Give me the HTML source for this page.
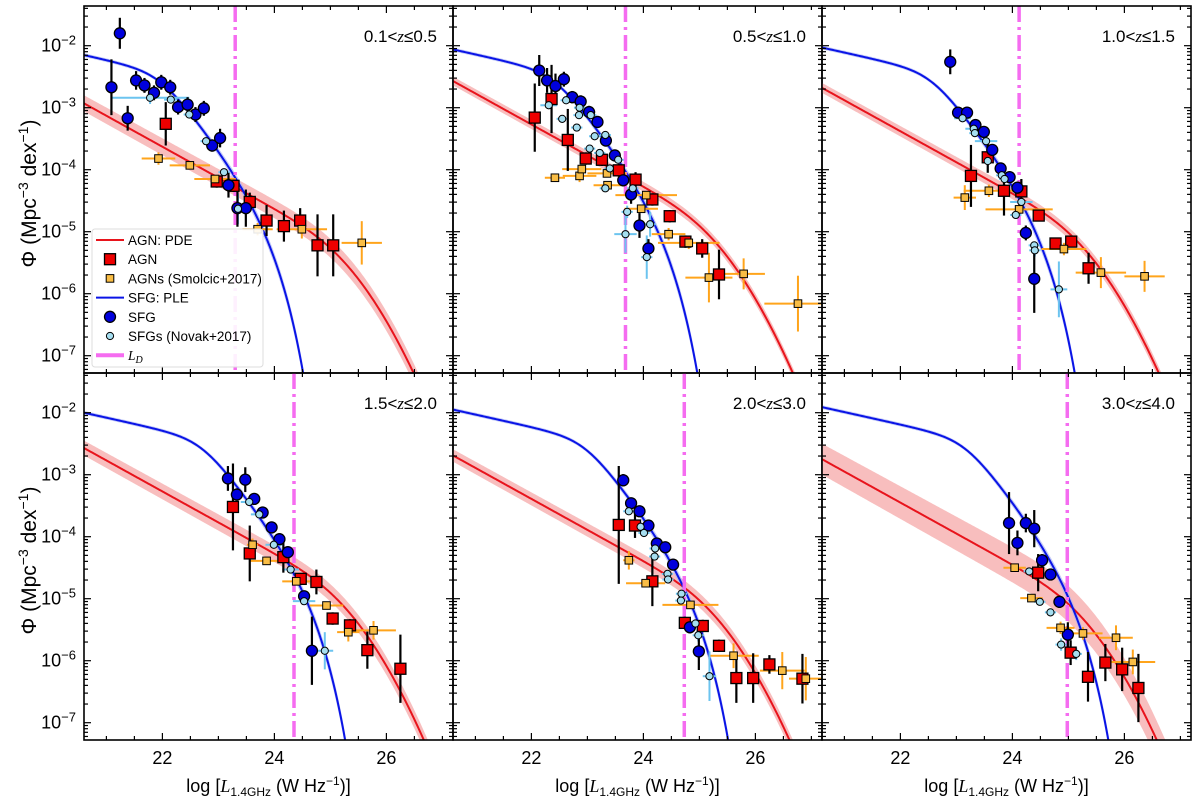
<!DOCTYPE html>
<html><head><meta charset="utf-8"><style>
html,body{margin:0;padding:0;background:#fff;overflow:hidden}
svg{display:block}
svg text{font-family:"Liberation Sans",sans-serif}
</style></head><body>
<svg id="fig" width="1200" height="807" viewBox="0 0 1200 807" xmlns="http://www.w3.org/2000/svg"></svg>
<script>
// ---- data (x = log L, y = log Phi, e = y error dex, xe = x half-width) ----
const zLabels = ["0.1<z≤0.5","0.5<z≤1.0","1.0<z≤1.5","1.5<z≤2.0","2.0<z≤3.0","3.0<z≤4.0"];
const ldValues = [23.30,23.68,24.12,24.35,24.73,24.98];
const agnNorm = [-4.88,-4.52,-4.63,-4.52,-4.64,-4.70];
const agnBand = [0.13,0.07,0.08,0.12,0.10,0.25];
const sfgBreak = [21.95,22.40,22.55,22.70,22.95,23.15];

const sfg1=[[21.24,-1.80,0.25],[21.09,-2.67,0.45],[21.38,-3.17,0.2],[21.53,-2.56,0.15],[21.68,-2.64,0.12],[21.85,-2.76,0.12],[21.98,-2.59,0.12],[22.14,-2.67,0.12],[22.28,-2.99,0.12],[22.45,-2.95,0.12],[22.59,-3.11,0.12],[22.74,-3.01,0.12],[22.89,-3.61,0.1],[23.03,-3.49,0.15],[23.18,-4.25,0.2],[23.34,-4.62,0.3],[23.49,-4.62,0.3]];
const nov1=[[21.78,-2.84,0.1,0.7],[22.15,-2.87,0.06,0.12],[22.48,-3.11,0.06,0.1],[22.78,-3.54,0.06,0.1],[23.10,-4.04,0.06,0.1],[23.35,-4.63,0.25,0.1]];
const agn1=[[22.06,-3.26,0.35],[22.97,-4.19,0.1],[23.27,-4.26,0.1],[23.56,-4.52,0.15],[23.86,-4.82,0.25],[24.17,-4.91,0.25],[24.46,-4.82,0.2],[24.77,-5.22,0.5],[25.05,-5.22,0.5]];
const smo1=[[21.93,-3.82,0.1,0.3],[22.49,-3.93,0.05,0.36],[22.94,-4.15,0.05,0.37],[23.70,-4.96,0.1,0.27],[24.49,-4.96,0.15,0.45],[25.56,-5.18,0.35,0.36]];

const sfg2=[[22.14,-2.40,0.25],[22.28,-2.56,0.2],[22.43,-2.65,0.2],[22.58,-2.54,0.12],[22.73,-2.83,0.1],[22.88,-2.90,0.1],[23.03,-3.07,0.1],[23.18,-3.23,0.08],[23.33,-3.53,0.08],[23.49,-3.77,0.08],[23.64,-4.17,0.1],[23.78,-4.40,0.15],[23.93,-4.90,0.2],[24.09,-5.27,0.15]];
const nov2=[[22.31,-2.96,0.05,0.15],[22.55,-3.18,0.05,0.1],[22.62,-2.88,0.05,0.1],[22.86,-3.00,0.05,0.1],[22.85,-3.12,0.05,0.1],[22.81,-3.32,0.05,0.1],[23.06,-3.12,0.05,0.1],[23.13,-3.46,0.05,0.1],[23.04,-3.66,0.05,0.1],[23.32,-3.44,0.05,0.1],[23.22,-3.73,0.05,0.1],[23.55,-3.84,0.05,0.1],[23.40,-3.98,0.05,0.1],[23.32,-4.30,0.05,0.1],[23.81,-4.30,0.05,0.1],[23.71,-4.68,0.1,0.1],[23.68,-5.04,0.3,0.2],[24.12,-4.88,0.2,0.1],[24.06,-5.41,0.35,0.1]];
const agn2=[[22.06,-3.16,0.55],[22.36,-2.86,0.55],[22.65,-3.52,0.5],[22.97,-3.82,0.1],[23.26,-3.84,0.1],[23.56,-4.01,0.1],[23.86,-4.16,0.12],[24.16,-4.48,0.1],[24.47,-4.75,0.1],[24.75,-5.16,0.1],[25.05,-5.27,0.15],[25.35,-5.69,0.4]];
const smo2=[[22.42,-4.13,0.05,0.18],[22.86,-4.10,0.1,0.3],[22.90,-3.99,0.05,0.35],[23.35,-4.06,0.05,0.35],[23.36,-4.25,0.05,0.25],[24.05,-4.41,0.05,0.55],[23.96,-4.63,0.05,0.3],[24.45,-5.04,0.1,0.3],[24.81,-5.18,0.1,0.55],[25.17,-5.74,0.4,0.42],[25.79,-5.68,0.25,0.38],[26.76,-6.16,0.45,0.6]];

const sfg3=[[22.89,-2.26,0.2],[23.03,-3.08,0.05],[23.19,-3.08,0.05],[23.34,-3.28,0.05],[23.49,-3.39,0.05],[23.64,-3.68,0.05],[23.79,-3.98,0.05],[23.95,-4.12,0.05],[24.09,-4.29,0.05],[24.24,-5.02,0.12],[24.39,-5.76,0.55]];
const nov3=[[23.11,-3.17,0.05,0.15],[23.31,-3.34,0.05,0.15],[23.33,-3.41,0.05,0.1],[23.53,-3.54,0.05,0.2],[23.56,-3.86,0.05,0.1],[23.81,-4.09,0.05,0.1],[23.86,-4.15,0.05,0.1],[24.06,-4.73,0.05,0.1],[24.16,-4.52,0.05,0.2],[24.39,-5.22,0.05,0.1],[24.40,-5.30,0.1,0.1],[24.83,-5.93,0.45,0.15]];
const agn3=[[23.26,-4.10,0.5],[23.56,-3.80,0.25],[23.85,-4.34,0.4],[24.16,-4.35,0.2],[24.47,-4.74,0.08],[24.77,-5.19,0.08],[25.05,-5.16,0.08],[25.36,-5.59,0.25]];
const smo3=[[23.15,-4.45,0.2,0.2],[23.58,-4.34,0.1,0.45],[24.12,-4.64,0.1,0.6],[24.92,-5.28,0.1,0.4],[25.58,-5.66,0.25,0.45],[26.36,-5.72,0.25,0.36]];

const sfg4=[[23.17,-3.06,0.2],[23.33,-3.32,0.1],[23.48,-3.08,0.2],[23.64,-3.39,0.08],[23.79,-3.61,0.08],[23.95,-3.85,0.08],[24.09,-4.04,0.08],[24.24,-4.25,0.08],[24.53,-4.96,0.08],[24.67,-5.84,0.55]];
const nov4=[[23.55,-3.44,0.05,0.15],[23.73,-3.64,0.05,0.15],[23.99,-4.13,0.05,0.15],[24.29,-4.53,0.05,0.15],[24.53,-5.04,0.05,0.2],[24.90,-5.84,0.3,0.15]];
const agn4=[[23.26,-3.52,0.7],[23.56,-4.27,0.45],[24.16,-4.33,0.25],[24.47,-4.68,0.08],[24.75,-4.73,0.2],[25.04,-5.32,0.1],[25.35,-5.43,0.1],[25.66,-5.83,0.3],[26.25,-6.13,0.55]];
const smo4=[[23.61,-4.13,0.1,0.1],[23.86,-4.39,0.05,0.3],[24.39,-4.72,0.05,0.25],[24.93,-5.11,0.05,0.3],[25.32,-5.54,0.15,0.2],[25.77,-5.51,0.15,0.4]];

const sfg5=[[23.64,-3.09,0.1],[23.78,-3.46,0.05],[23.93,-3.59,0.05],[24.09,-3.82,0.05],[24.24,-4.11,0.05],[24.39,-4.17,0.05],[24.53,-4.45,0.05],[24.83,-5.46,0.1],[24.99,-5.85,0.3]];
const nov5=[[23.74,-3.59,0.05,0.1],[23.95,-3.84,0.05,0.1],[24.01,-3.94,0.05,0.1],[24.21,-4.19,0.05,0.1],[24.20,-4.32,0.05,0.1],[24.43,-4.60,0.05,0.1],[24.44,-4.69,0.05,0.1],[24.68,-4.92,0.05,0.1],[24.67,-5.03,0.05,0.1],[24.93,-5.40,0.05,0.15],[24.98,-5.59,0.1,0.1],[25.18,-6.25,0.4,0.12]];
const agn5=[[23.56,-3.81,0.95],[23.85,-3.82,0.2],[24.16,-4.72,0.4],[24.74,-5.39,0.1],[25.06,-5.44,0.1],[25.35,-5.76,0.1],[25.66,-6.28,0.4],[25.96,-6.28,0.4],[26.25,-6.06,0.15],[26.84,-6.29,0.4]];
const smo5=[[23.74,-4.38,0.15,0.1],[24.04,-4.75,0.05,0.35],[24.84,-5.10,0.05,0.5],[25.61,-5.92,0.2,0.45],[26.48,-6.16,0.3,0.4],[26.90,-6.29,0.35,0.3]];

const sfg6=[[23.94,-3.78,0.5],[24.09,-4.10,0.2],[24.24,-3.78,0.15],[24.39,-3.87,0.3],[24.53,-4.38,0.1],[24.68,-4.61,0.05],[24.84,-5.05,0.1],[24.99,-5.58,0.2]];
const nov6=[[24.30,-4.56,0.05,0.1],[24.49,-5.05,0.05,0.1],[24.68,-5.22,0.05,0.1],[24.87,-5.74,0.1,0.1],[25.14,-5.89,0.1,0.1]];
const agn6=[[24.46,-4.58,0.3],[25.04,-5.87,0.2],[25.35,-6.26,0.4],[25.66,-6.03,0.3],[25.96,-6.14,0.35],[26.25,-6.44,0.55]];
const smo6=[[24.04,-4.50,0.05,0.2],[24.34,-4.99,0.05,0.2],[24.86,-5.47,0.1,0.25],[25.26,-5.56,0.1,0.35],[25.85,-5.63,0.2,0.3],[26.15,-6.02,0.2,0.4]];

const xTicks=[22,24,26];
const yTicks=[-2,-3,-4,-5,-6,-7];

const SFG=[sfg1,sfg2,sfg3,sfg4,sfg5,sfg6], NOV=[nov1,nov2,nov3,nov4,nov5,nov6], AGN=[agn1,agn2,agn3,agn4,agn5,agn6], SMO=[smo1,smo2,smo3,smo4,smo5,smo6];

// ---- layout ----
const NS="http://www.w3.org/2000/svg";
const svg=document.getElementById('fig');
const PW=369, PH=367, XMIN=20.6, XMAX=20.6+369/56, YMAX=-2+39.7/62, YMIN=YMAX-367/62;
const lefts=[84,453,822], tops=[6,373];
function mk(tag,attrs,parent){const e=document.createElementNS(NS,tag);for(const k in attrs)e.setAttribute(k,attrs[k]);(parent||svg).appendChild(e);return e;}

function agnCurve(p,x){const u=x-24.5;const l=Math.log(1+Math.pow(10,u));return p-0.5*u-l*l/(2*1.8*1.8*Math.LN10);}
function sfgCurve(xs,x){const u=x-xs;const xc=xs+2.25;
  const dpl=0.5*Math.log10(Math.pow(10,0.4*u)+Math.pow(10,2.3*u));
  return -2.42-dpl-Math.pow(10,0.9*(x-xc));}

for(let i=0;i<6;i++){
  const col=i%3,row=Math.floor(i/3);
  const X0=lefts[col],Y0=tops[row];
  const sx=x=>X0+(x-XMIN)/(XMAX-XMIN)*PW;
  const sy=v=>Y0+(YMAX-v)/(YMAX-YMIN)*PH;
  const g=mk('g',{});
  
  
  const cp=mk('clipPath',{id:'c'+i},g);mk('rect',{x:X0,y:Y0,width:PW,height:PH},cp);
  const pg=mk('g',{'clip-path':'url(#c'+i+')'},g);
  const N=300;let up=[],dn=[],mid=[],sm=[],su=[],sd=[];
  for(let k=0;k<=N;k++){const x=XMIN+(XMAX-XMIN)*k/N;const a=agnCurve(agnNorm[i],x);const w=agnBand[i]*(1+0.25*(x-XMIN)/(XMAX-XMIN));
    up.push(sx(x)+','+sy(a+w));dn.unshift(sx(x)+','+sy(a-w));mid.push(sx(x)+','+sy(a));
    const s=Math.max(sfgCurve(sfgBreak[i],x),YMIN-1);const sw=0.03+0.03*Math.max(0,x-sfgBreak[i]);
    sm.push(sx(x)+','+sy(s));su.push(sx(x)+','+sy(s+sw));sd.unshift(sx(x)+','+sy(s-sw));}
  const ab=mk('polygon',{points:up.concat(dn).join(' '),fill:'#f7b3b3',opacity:0.85},pg);
  
  const sb=mk('polygon',{points:su.concat(sd).join(' '),fill:'#aab4f5',opacity:0.7},pg);
  
  const al=mk('polyline',{points:mid.join(' '),fill:'none',stroke:'#e8141c','stroke-width':2},pg);
  
  const sl=mk('polyline',{points:sm.join(' '),fill:'none',stroke:'#0a14e6','stroke-width':2},pg);
  
  const ld=mk('line',{x1:sx(ldValues[i]),x2:sx(ldValues[i]),y1:Y0,y2:Y0+PH,stroke:'#f56cf0','stroke-width':3.5,'stroke-dasharray':'16 5 3 5'},pg);
  
  function eb(d,colr,w){if(d[2])mk('line',{x1:sx(d[0]),x2:sx(d[0]),y1:sy(d[1]+d[2]),y2:sy(d[1]-d[2]),stroke:colr,'stroke-width':w},pg);
    if(d[3])mk('line',{x1:sx(d[0]-d[3]),x2:sx(d[0]+d[3]),y1:sy(d[1]),y2:sy(d[1]),stroke:colr,'stroke-width':w},pg);}
  SMO[i].forEach(d=>eb(d,'#ffa41b',2));
  NOV[i].forEach(d=>eb(d,'#6cc4ef',2));
  AGN[i].forEach(d=>eb(d,'#000',2.2));
  SFG[i].forEach(d=>eb(d,'#000',2.2));
  AGN[i].forEach(d=>{const r=mk('rect',{x:sx(d[0])-5.5,y:sy(d[1])-5.5,width:11,height:11,fill:'#ee0000',stroke:'#000','stroke-width':1.3},pg);
    });
  SFG[i].forEach(d=>{const c=mk('circle',{cx:sx(d[0]),cy:sy(d[1]),r:5.5,fill:'#0000dd',stroke:'#000','stroke-width':1.3},pg);
    });
  SMO[i].forEach(d=>{const r=mk('rect',{x:sx(d[0])-3.8,y:sy(d[1])-3.8,width:7.6,height:7.6,fill:'#f9bd45',stroke:'#000','stroke-width':1},pg);
    });
  NOV[i].forEach(d=>{const c=mk('circle',{cx:sx(d[0]),cy:sy(d[1]),r:3.6,fill:'#a6def0',stroke:'#000','stroke-width':1},pg);
    });
  for(let t=20.5;t<=27.2;t+=0.5){if(t<XMIN)continue;const maj=Math.abs(t/2-Math.round(t/2))<1e-6;const L=maj?7:4;
    mk('line',{x1:sx(t),x2:sx(t),y1:Y0+PH,y2:Y0+PH-L,stroke:'#000','stroke-width':1.2},g);
    mk('line',{x1:sx(t),x2:sx(t),y1:Y0,y2:Y0+L,stroke:'#000','stroke-width':1.2},g);}
  for(let dcd=-8;dcd<=-1;dcd++){for(let m=1;m<10;m++){const v=dcd+Math.log10(m);if(v<YMIN||v>YMAX)continue;const L=m==1?7:4;
    mk('line',{x1:X0,x2:X0+L,y1:sy(v),y2:sy(v),stroke:'#000','stroke-width':1.2},g);
    mk('line',{x1:X0+PW,x2:X0+PW-L,y1:sy(v),y2:sy(v),stroke:'#000','stroke-width':1.2},g);}}
  if(col==0){yTicks.forEach(v=>{const t=mk('text',{x:X0-8,y:sy(v)+6,'text-anchor':'end','font-size':18},g);
    
    t.appendChild(document.createTextNode('10'));const s=mk('tspan',{dy:-7,'font-size':13},t);s.textContent='−'+(-v);});}
  if(row==1){xTicks.forEach(v=>{const t=mk('text',{x:sx(v),y:Y0+PH+24,'text-anchor':'middle','font-size':18},g);
    t.textContent=v;});
    const xl=mk('text',{x:X0+PW/2,y:792,'text-anchor':'middle','font-size':18},g);
    
    xl.innerHTML='log [<tspan font-family="Liberation Serif" font-style="italic">L</tspan><tspan font-size="12" dy="4">1.4GHz</tspan><tspan dy="-4"> (W Hz</tspan><tspan font-size="12" dy="-7">−1</tspan><tspan dy="7">)]</tspan>';}
  if(col==0){const yl=mk('text',{x:0,y:0,'text-anchor':'middle','font-size':21,transform:'translate(36,'+(Y0+PH/2+4)+') rotate(-90)'},g);
    
    yl.innerHTML='Φ (Mpc<tspan font-size="14" dy="-8">−3</tspan><tspan dy="8"> dex</tspan><tspan font-size="14" dy="-8">−1</tspan><tspan dy="8">)</tspan>';}
  const parts=zLabels[i].split('z');
  const zl=mk('text',{x:X0+PW-16,y:Y0+36,'text-anchor':'end','font-size':17},g);
  
  zl.innerHTML=parts[0]+'<tspan font-family="Liberation Serif" font-style="italic">z</tspan>'+parts[1];
  const fr=mk('rect',{x:X0,y:Y0,width:PW,height:PH,fill:'none',stroke:'#000','stroke-width':1.6},g);
  
}
const lg=mk('g',{});
mk('rect',{x:92,y:229,width:171,height:138,rx:3,fill:'#fff','fill-opacity':0.9,stroke:'#ddd','stroke-width':1},lg);
const ent=[['AGN: PDE','line','#e8141c'],['AGN','sq','#ee0000'],['AGNs (Smolcic+2017)','ssq','#f9bd45'],['SFG: PLE','line','#0a14e6'],['SFG','circ','#0000dd'],['SFGs (Novak+2017)','scirc','#a6def0'],['LD','ld','#f56cf0']];
ent.forEach((e,k)=>{const y=240+k*19.2;const ge=mk('g',{},lg);
  
  if(e[1]=='line')mk('line',{x1:96,x2:124,y1:y,y2:y,stroke:e[2],'stroke-width':2},ge);
  if(e[1]=='ld')mk('line',{x1:96,x2:124,y1:y,y2:y,stroke:e[2],'stroke-width':4},ge);
  if(e[1]=='sq')mk('rect',{x:104.5,y:y-5.5,width:11,height:11,fill:e[2],stroke:'#000','stroke-width':1.3},ge);
  if(e[1]=='ssq')mk('rect',{x:106.2,y:y-3.8,width:7.6,height:7.6,fill:e[2],stroke:'#000','stroke-width':1},ge);
  if(e[1]=='circ')mk('circle',{cx:110,cy:y,r:5.5,fill:e[2],stroke:'#000','stroke-width':1.3},ge);
  if(e[1]=='scirc')mk('circle',{cx:110,cy:y,r:3.6,fill:e[2],stroke:'#000','stroke-width':1},ge);
  const t=mk('text',{x:128,y:y+5,'font-size':13.5},ge);
  if(e[1]=='ld')t.innerHTML='<tspan font-family="Liberation Serif" font-style="italic">L</tspan><tspan font-family="Liberation Serif" font-style="italic" font-size="10" dy="3">D</tspan>';
  else t.textContent=e[0];});
</script>
</body></html>
